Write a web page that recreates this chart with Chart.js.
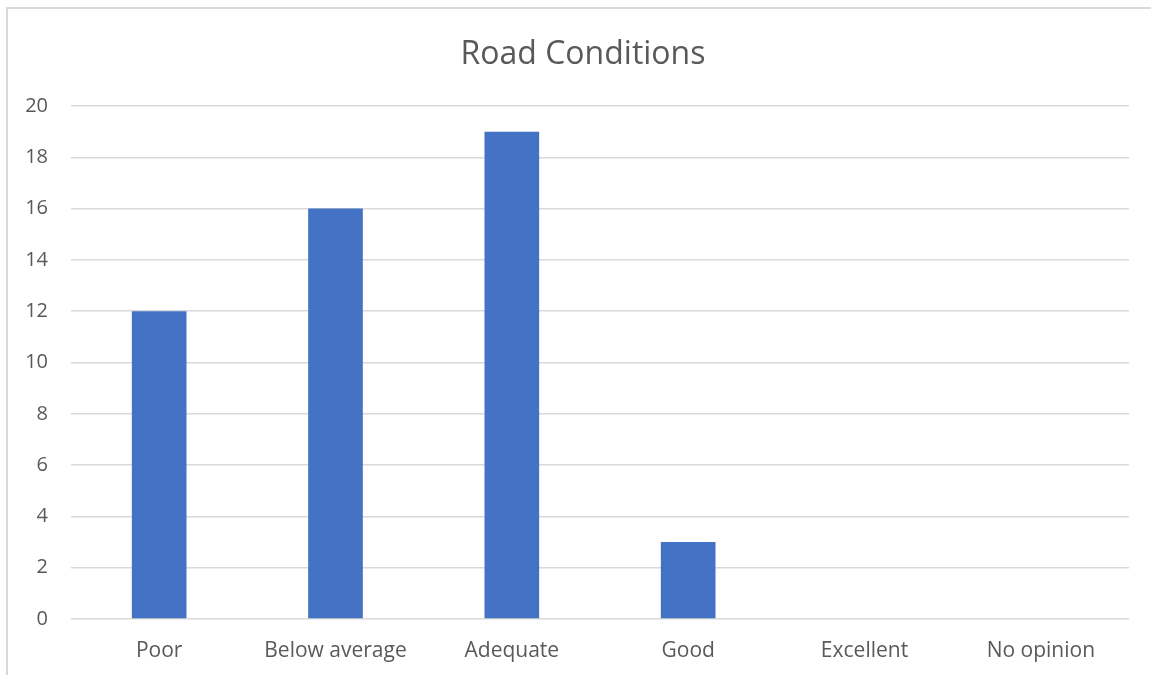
<!DOCTYPE html>
<html>
<head>
<meta charset="utf-8">
<script src="https://cdn.jsdelivr.net/npm/chart.js@4"></script>
<style>
  html, body { margin: 0; padding: 0; background: #fff; overflow: hidden; }
  #wrap { position: absolute; left: 0; top: 0; width: 1151px; height: 675px; }
  #frame { position: absolute; left: 6px; top: 7px; width: 1200px; height: 700px;
           border-left: 2px solid #d9d9d9; border-top: 2px solid #d9d9d9; }
</style>
</head>
<body>
<div id="wrap">
  <div id="frame"></div>
  <canvas id="roadChart" width="1151" height="675"></canvas>
</div>
<script>
const categories = ["Poor", "Below average", "Adequate", "Good", "Excellent", "No opinion"];
const counts = [12, 16, 19, 3, 0, 0];
const yTicks = [0, 2, 4, 6, 8, 10, 12, 14, 16, 18, 20];

const textColor = "#595959";
const gridColor = "#d9d9d9";

// nudge the title so it's centred like the original (not over the full canvas)
const titleShift = {
  id: "titleShift",
  afterLayout(chart) {
    if (chart.titleBlock) chart.titleBlock.left = 37;
  },
};

const ctx = document.getElementById("roadChart").getContext("2d");

new Chart(ctx, {
  type: "bar",
  data: {
    labels: categories,
    datasets: [
      {
        label: "Road Conditions",
        data: counts,
        backgroundColor: "#4472C4",
        borderWidth: 0,
        categoryPercentage: 1,
        barPercentage: 0.31,
      },
    ],
  },
  plugins: [titleShift],
  options: {
    responsive: false,
    animation: false,
    layout: {
      padding: { left: 0, right: 22, top: 0, bottom: 0 },
    },
    plugins: {
      legend: { display: false },
      tooltip: { enabled: false },
      title: {
        display: true,
        text: "Road Conditions",
        color: textColor,
        font: { family: "'Open Sans', sans-serif", size: 32, weight: "normal" },
        padding: { top: 36, bottom: 31.6 },
      },
    },
    scales: {
      x: {
        grid: { display: false },
        border: { display: false },
        ticks: {
          color: textColor,
          font: { family: "'Open Sans', sans-serif", size: 21 },
          padding: 11,
        },
        afterFit: (scale) => {
          scale.height = 56;
        },
      },
      y: {
        min: 0,
        max: 20,
        afterBuildTicks: (scale) => {
          scale.ticks = yTicks.map((v) => ({ value: v }));
        },
        grid: { color: gridColor, lineWidth: 1.5, drawTicks: false },
        border: { display: false },
        ticks: {
          color: textColor,
          font: { family: "'Open Sans', sans-serif", size: 20 },
          padding: 23,
        },
        afterFit: (scale) => {
          scale.width = 71;
        },
      },
    },
  },
});
</script>
</body>
</html>
